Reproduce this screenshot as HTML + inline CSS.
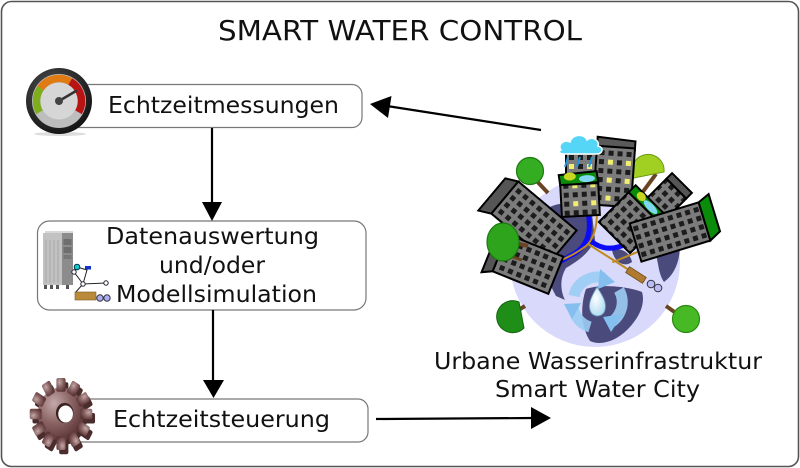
<!DOCTYPE html>
<html><head><meta charset="utf-8"><style>
html,body{margin:0;padding:0;background:#fff;}
svg{display:block;}
text{font-family:"DejaVu Sans","Liberation Sans",sans-serif;fill:#111;}
</style></head><body>
<svg width="800" height="468" viewBox="0 0 800 468" xmlns="http://www.w3.org/2000/svg">
<defs>
  <pattern id="win" width="9" height="9" patternUnits="userSpaceOnUse" x="0" y="0">
    <rect width="9" height="9" fill="#7c7c7c"/>
    <rect x="2" y="2" width="5" height="5" fill="#1c1c1c"/>
  </pattern>
  <pattern id="winY" width="18" height="18" patternUnits="userSpaceOnUse" x="0" y="0">
    <rect width="18" height="18" fill="#7c7c7c"/>
    <rect x="2" y="2" width="5" height="5" fill="#1c1c1c"/>
    <rect x="11" y="2" width="5" height="5" fill="#f2ee70"/>
    <rect x="2" y="11" width="5" height="5" fill="#1c1c1c"/>
    <rect x="11" y="11" width="5" height="5" fill="#1c1c1c"/>
  </pattern>
  <radialGradient id="gearG" cx="35%" cy="30%" r="75%">
    <stop offset="0" stop-color="#c4a8a8"/>
    <stop offset="0.5" stop-color="#8a6464"/>
    <stop offset="1" stop-color="#5a3434"/>
  </radialGradient>
  <radialGradient id="gaugeRim" cx="40%" cy="35%" r="70%">
    <stop offset="0" stop-color="#555"/>
    <stop offset="1" stop-color="#111"/>
  </radialGradient>
  <radialGradient id="drop" cx="40%" cy="40%" r="70%">
    <stop offset="0" stop-color="#ffffff"/>
    <stop offset="1" stop-color="#a8d8f0"/>
  </radialGradient>
</defs>

<rect x="1.5" y="1.5" width="797" height="465" rx="10" ry="10" fill="#fff" stroke="#555" stroke-width="1.6"/>

<text x="400" y="40" text-anchor="middle" font-size="28" textLength="364" lengthAdjust="spacingAndGlyphs">SMART WATER CONTROL</text>

<rect x="55" y="84.5" width="307" height="43" rx="10" fill="#fff" stroke="#777" stroke-width="1.2"/>
<rect x="37.5" y="221" width="328.5" height="89" rx="12" fill="#fff" stroke="#777" stroke-width="1.2"/>
<rect x="60" y="399" width="308" height="43" rx="10" fill="#fff" stroke="#777" stroke-width="1.2"/>

<text x="108" y="113" font-size="23" textLength="231" lengthAdjust="spacingAndGlyphs">Echtzeitmessungen</text>
<text x="106" y="244" font-size="23" textLength="213" lengthAdjust="spacingAndGlyphs">Datenauswertung</text>
<text x="159" y="273" font-size="23" textLength="106" lengthAdjust="spacingAndGlyphs">und/oder</text>
<text x="116" y="302" font-size="23" textLength="201" lengthAdjust="spacingAndGlyphs">Modellsimulation</text>
<text x="113" y="427" font-size="23" textLength="217" lengthAdjust="spacingAndGlyphs">Echtzeitsteuerung</text>
<text x="434" y="369" font-size="23" textLength="328" lengthAdjust="spacingAndGlyphs">Urbane Wasserinfrastruktur</text>
<text x="495" y="397" font-size="23" textLength="205" lengthAdjust="spacingAndGlyphs">Smart Water City</text>

<g stroke="#000" stroke-width="2.2" fill="none">
  <line x1="212" y1="128" x2="212" y2="204"/>
  <line x1="213" y1="310" x2="213" y2="382"/>
  <line x1="376" y1="419" x2="534" y2="418"/>
  <line x1="541" y1="130" x2="387" y2="106"/>
</g>
<g fill="#000">
  <polygon points="202,202 222,202 212,221"/>
  <polygon points="203,380 224,380 213.5,398"/>
  <polygon points="531,407 531,429 551,418"/>
  <polygon points="370,104 391.5,96 388,118"/>
</g>

<ellipse cx="60" cy="134" rx="26" ry="2" fill="#ddd"/>
<circle cx="59" cy="101" r="33" fill="url(#gaugeRim)"/>
<circle cx="59" cy="101" r="27" fill="#bdbdbd"/>
<g fill="none" stroke-width="7.5">
  <path d="M39.5,112.25 A22.5,22.5 0 0 1 40.57,88.09" stroke="#7fae1c"/>
  <path d="M40.57,88.09 A22.5,22.5 0 0 1 70.25,81.51" stroke="#e07a12"/>
  <path d="M70.25,81.51 A22.5,22.5 0 0 1 78.49,112.25" stroke="#b81414"/>
</g>
<circle cx="59" cy="101" r="18.5" fill="#d6d6d6"/>
<line x1="59" y1="101" x2="76" y2="91" stroke="#333" stroke-width="2.5" stroke-linecap="round"/>
<circle cx="59" cy="101" r="4" fill="#444"/>

<rect x="45" y="231" width="28" height="3" fill="#d8d8d8"/>
<rect x="43" y="233" width="19" height="52" fill="#c2c2c2"/>
<rect x="62" y="233" width="11" height="52" fill="#8c8c8c"/>
<rect x="63.5" y="239" width="8" height="6" fill="#6e6e6e"/>
<rect x="63.5" y="247" width="8" height="6" fill="#6e6e6e"/>
<rect x="63.5" y="255" width="8" height="4" fill="#777"/>
<g stroke="#a0a0a0" stroke-width="0.8">
  <line x1="46" y1="240" x2="46" y2="283"/><line x1="50" y1="240" x2="50" y2="283"/>
  <line x1="54" y1="240" x2="54" y2="283"/><line x1="58" y1="240" x2="58" y2="283"/>
</g>
<g fill="#555">
  <rect x="44" y="285" width="3" height="4"/><rect x="50" y="285" width="3" height="4"/>
  <rect x="56" y="285" width="3" height="4"/><rect x="66" y="285" width="3" height="4"/>
</g>
<g stroke="#222" stroke-width="1" fill="none">
  <path d="M77,267 L74,272 L83,284 L75,293"/>
  <path d="M77,267 L87,270 L83,284 L106,283"/>
</g>
<circle cx="77" cy="267" r="2.8" fill="#11cccc" stroke="#034"/>
<rect x="85" y="266" width="6" height="3.5" fill="#1133cc"/>
<circle cx="74" cy="272" r="2.2" fill="#fff" stroke="#223"/>
<circle cx="83" cy="284" r="2.2" fill="#fff" stroke="#223"/>
<circle cx="106" cy="283" r="2.2" fill="#fff" stroke="#223"/>
<rect x="75" y="292" width="21" height="8" fill="#b98a3a" stroke="#7a5a20" stroke-width="0.6"/>
<circle cx="100" cy="298" r="3.2" fill="#aab0ee" stroke="#334"/>
<circle cx="107" cy="298" r="3.2" fill="#aab0ee" stroke="#334"/>

<g transform="translate(61,414) scale(0.92,1.06)">
  <g fill="#4a2c2c" transform="translate(3,4)">
    <circle r="25"/>
    <rect x="-5" y="-34" width="10" height="13" rx="2"/>
    <rect x="-5" y="-34" width="10" height="13" rx="2" transform="rotate(30)"/>
    <rect x="-5" y="-34" width="10" height="13" rx="2" transform="rotate(60)"/>
    <rect x="-5" y="-34" width="10" height="13" rx="2" transform="rotate(90)"/>
    <rect x="-5" y="-34" width="10" height="13" rx="2" transform="rotate(120)"/>
    <rect x="-5" y="-34" width="10" height="13" rx="2" transform="rotate(150)"/>
    <rect x="-5" y="-34" width="10" height="13" rx="2" transform="rotate(180)"/>
    <rect x="-5" y="-34" width="10" height="13" rx="2" transform="rotate(210)"/>
    <rect x="-5" y="-34" width="10" height="13" rx="2" transform="rotate(240)"/>
    <rect x="-5" y="-34" width="10" height="13" rx="2" transform="rotate(270)"/>
    <rect x="-5" y="-34" width="10" height="13" rx="2" transform="rotate(300)"/>
    <rect x="-5" y="-34" width="10" height="13" rx="2" transform="rotate(330)"/>
  </g>
  <g fill="url(#gearG)">
    <circle r="25"/>
    <rect x="-5" y="-34" width="10" height="13" rx="2"/>
    <rect x="-5" y="-34" width="10" height="13" rx="2" transform="rotate(30)"/>
    <rect x="-5" y="-34" width="10" height="13" rx="2" transform="rotate(60)"/>
    <rect x="-5" y="-34" width="10" height="13" rx="2" transform="rotate(90)"/>
    <rect x="-5" y="-34" width="10" height="13" rx="2" transform="rotate(120)"/>
    <rect x="-5" y="-34" width="10" height="13" rx="2" transform="rotate(150)"/>
    <rect x="-5" y="-34" width="10" height="13" rx="2" transform="rotate(180)"/>
    <rect x="-5" y="-34" width="10" height="13" rx="2" transform="rotate(210)"/>
    <rect x="-5" y="-34" width="10" height="13" rx="2" transform="rotate(240)"/>
    <rect x="-5" y="-34" width="10" height="13" rx="2" transform="rotate(270)"/>
    <rect x="-5" y="-34" width="10" height="13" rx="2" transform="rotate(300)"/>
    <rect x="-5" y="-34" width="10" height="13" rx="2" transform="rotate(330)"/>
  </g>
  <circle cx="4" cy="-1" r="9.5" fill="#3a2020"/>
  <circle cx="5" cy="0" r="8" fill="#fff"/>
</g>

<circle cx="595" cy="262" r="85" fill="#d9d9fb"/>
<g fill="#4b4a7c">
  <path d="M545,210 C558,200 578,202 592,214 L595,240 C588,255 576,262 566,268 C560,278 560,290 565,300 L556,296 C548,282 544,268 548,255 C542,245 540,228 545,210 Z"/>
  <path d="M586,289 C600,284 626,286 642,292 C646,306 637,320 627,330 C616,341 601,346 590,341 C581,327 580,306 586,289 Z"/>
  <path d="M642,205 C660,210 676,222 680,245 C680,262 674,275 664,282 C656,270 660,255 650,245 C642,235 637,218 642,205 Z"/>
  <path d="M612,250 C620,247 630,252 632,262 C624,268 614,262 612,250 Z"/>
</g>

<g fill="none" stroke-linecap="round">
  <path d="M588,212 C592,232 588,248 570,256 L556,264" stroke="#0b0bf5" stroke-width="5"/>
  <path d="M591,241 C602,250 614,250 626,244" stroke="#0b0bf5" stroke-width="5"/>
  <path d="M597,212 C597,228 593,240 586,246 C578,252 568,258 556,262" stroke="#c08a1e" stroke-width="2"/>
  <path d="M588,244 L629,270" stroke="#c08a1e" stroke-width="2"/>
  <path d="M613,262 L640,251" stroke="#c08a1e" stroke-width="2"/>
</g>
<g transform="translate(636,275) rotate(33)">
  <rect x="-10" y="-3.5" width="20" height="7" fill="#b07a30" stroke="#6a4a1a" stroke-width="0.8"/>
</g>
<circle cx="651" cy="284" r="3.8" fill="#b8bcf0" stroke="#334" stroke-width="1"/>
<circle cx="658" cy="288" r="3.8" fill="#b8bcf0" stroke="#334" stroke-width="1"/>

<g fill="none" stroke="#9ccdf4" stroke-width="11" opacity="0.9">
  <path d="M574,296 A24,24 0 0 1 604,278"/>
  <path d="M619,290 A24,24 0 0 1 608,324"/>
  <path d="M590,327 A24,24 0 0 1 573,306"/>
</g>
<g fill="#84bff0">
  <polygon points="600,269 615,282 598,289"/>
  <polygon points="623,314 611,332 603,317"/>
  <polygon points="564,304 581,303 572,319"/>
</g>
<path d="M597,287 C591,297 588,304 590,310 C592,318 603,318 605,310 C607,303 603,296 597,287 Z" fill="url(#drop)" stroke="#6a9ab8" stroke-width="0.8"/>

<line x1="656" y1="174" x2="642" y2="193" stroke="#6b4423" stroke-width="4"/>
<path d="M634,178 A16,16 0 1 1 664,172 Z" fill="#a2d022" stroke="#6a9a10" stroke-width="1"/>

<rect x="566" y="150" width="31" height="24" fill="url(#winY)" stroke="#000" stroke-width="2"/>
<g transform="translate(614,176) rotate(4)">
  <polygon points="-19,-38 19,-36 19,-27 -19,-29" fill="#5a5a5a" stroke="#000" stroke-width="2"/>
  <rect x="-19" y="-29" width="38" height="59" fill="url(#winY)" stroke="#000" stroke-width="2"/>
</g>
<path d="M561,150 C557,144 565,139 570,142 C572,134 584,133 587,140 C592,136 600,140 598,146 C604,147 603,154 597,154 L564,154 C559,154 558,151 561,150 Z" fill="#55d6f6" stroke="#fff" stroke-width="1.5"/>
<g stroke="#1e96dd" stroke-width="2">
  <line x1="568" y1="157" x2="565" y2="167"/>
  <line x1="580" y1="157" x2="577" y2="167"/>
  <line x1="592" y1="157" x2="589" y2="167"/>
</g>
<g transform="translate(580,199) rotate(-3)">
  <polygon points="-20,-25 18,-27 19,-16 -19,-14" fill="#0a8c0a" stroke="#000" stroke-width="2"/>
  <ellipse cx="8" cy="-20" rx="8" ry="3.5" fill="#7fd8f0"/>
  <ellipse cx="-9" cy="-23" rx="6" ry="4" fill="#c8d820"/>
  <rect x="-19" y="-15" width="38" height="32" fill="url(#winY)" stroke="#000" stroke-width="2"/>
</g>
<g transform="translate(534,222) rotate(40)">
  <polygon points="-38,-21 -50,-15 -50,27 -38,21" fill="#555" stroke="#000" stroke-width="2"/>
  <rect x="-38" y="-21" width="76" height="42" fill="url(#win)" stroke="#000" stroke-width="2"/>
</g>
<g transform="translate(528,264) rotate(22)">
  <polygon points="-30,-20 -40,-15 -40,25 -30,20" fill="#555" stroke="#000" stroke-width="2"/>
  <rect x="-30" y="-20" width="60" height="40" fill="url(#win)" stroke="#000" stroke-width="2"/>
</g>
<line x1="532" y1="176" x2="548" y2="193" stroke="#6b4423" stroke-width="4"/>
<circle cx="530" cy="171" r="13.5" fill="#35ad22" stroke="#1f7a12" stroke-width="1.2"/>
<line x1="503" y1="240" x2="528" y2="246" stroke="#6b4423" stroke-width="4"/>
<line x1="503" y1="254" x2="522" y2="260" stroke="#6b4423" stroke-width="3"/>
<ellipse cx="503" cy="242" rx="16" ry="19" fill="#2ea41d" stroke="#1c7a10" stroke-width="1.2"/>
<line x1="512" y1="314" x2="525" y2="306" stroke="#6b4423" stroke-width="4"/>
<path d="M519,302 A16,16 0 1 0 524,328 Z" fill="#1f8e18" stroke="#146610" stroke-width="1"/>
<line x1="666" y1="306" x2="683" y2="318" stroke="#6b4423" stroke-width="4"/>
<circle cx="686" cy="319" r="13.5" fill="#46b925" stroke="#2a8a14" stroke-width="1.2"/>

<g transform="translate(665,200) rotate(45)">
  <rect x="-14" y="-24" width="28" height="8" fill="#555" stroke="#000" stroke-width="2"/>
  <rect x="-14" y="-16" width="28" height="32" fill="url(#win)" stroke="#000" stroke-width="2"/>
</g>
<g transform="translate(630,222) rotate(45)">
  <rect x="-22" y="-30" width="44" height="10" fill="#0a8c0a" stroke="#000" stroke-width="2"/>
  <ellipse cx="4" cy="-25" rx="9" ry="3.5" fill="#7fd8f0"/>
  <ellipse cx="-10" cy="-26" rx="5" ry="4" fill="#c8d820"/>
  <rect x="-22" y="-20" width="44" height="42" fill="url(#win)" stroke="#000" stroke-width="2"/>
</g>
<g transform="translate(670,232) rotate(-17)">
  <polygon points="36,-20 48,-25 48,14 36,20" fill="#0a8c0a" stroke="#000" stroke-width="2"/>
  <rect x="-36" y="-20" width="72" height="40" fill="url(#win)" stroke="#000" stroke-width="2"/>
</g>
</svg>
</body></html>
